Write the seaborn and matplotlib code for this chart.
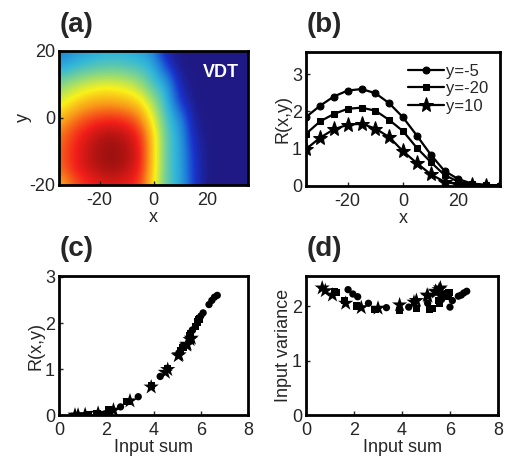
import numpy as np
import pandas as pd
import matplotlib
matplotlib.use("Agg")
import matplotlib.pyplot as plt
from matplotlib.colors import LinearSegmentedColormap
import seaborn as sns

# ---- data ----
# (a) VDT response map, normalised, rows y = 20 .. -20, cols x = -35 .. 35 (step 5)
map_x = [-35, -30, -25, -20, -15, -10, -5, 0, 5, 10, 15, 20, 25, 30, 35]
map_y = [20, 15, 10, 5, 0, -5, -10, -15, -20]
vdt_map = [
    [0.24, 0.28, 0.32, 0.34, 0.35, 0.34, 0.32, 0.26, 0.03, 0.00, 0.00, 0.00, 0.00, 0.00, 0.00],
    [0.33, 0.37, 0.40, 0.42, 0.43, 0.42, 0.40, 0.36, 0.15, 0.00, 0.00, 0.00, 0.00, 0.00, 0.00],
    [0.48, 0.53, 0.57, 0.60, 0.60, 0.58, 0.52, 0.40, 0.34, 0.05, 0.00, 0.00, 0.00, 0.00, 0.00],
    [0.58, 0.65, 0.70, 0.72, 0.72, 0.70, 0.66, 0.52, 0.37, 0.12, 0.00, 0.00, 0.00, 0.00, 0.00],
    [0.70, 0.77, 0.82, 0.85, 0.86, 0.84, 0.78, 0.60, 0.40, 0.28, 0.02, 0.00, 0.00, 0.00, 0.00],
    [0.78, 0.85, 0.90, 0.94, 0.95, 0.93, 0.87, 0.68, 0.42, 0.33, 0.06, 0.00, 0.00, 0.00, 0.00],
    [0.80, 0.87, 0.92, 0.96, 0.98, 0.95, 0.90, 0.68, 0.42, 0.34, 0.10, 0.00, 0.00, 0.00, 0.00],
    [0.80, 0.87, 0.92, 0.95, 0.97, 0.94, 0.89, 0.68, 0.42, 0.34, 0.12, 0.00, 0.00, 0.00, 0.00],
    [0.70, 0.80, 0.86, 0.88, 0.90, 0.88, 0.85, 0.65, 0.42, 0.35, 0.12, 0.00, 0.00, 0.00, 0.00],
]

# (b) R(x,y) along three horizontal cuts
cut_x = [-35, -30, -25, -20, -15, -10, -5, 0, 5, 10, 15, 20, 25, 30, 35]
r_ym5 = [1.85, 2.15, 2.40, 2.56, 2.60, 2.49, 2.22, 1.84, 1.35, 0.84, 0.40, 0.18, 0.06, 0.03, 0.00]
r_ym20 = [1.40, 1.73, 1.93, 2.07, 2.10, 2.02, 1.77, 1.47, 1.02, 0.64, 0.29, 0.11, 0.04, 0.01, 0.00]
r_y10 = [0.99, 1.29, 1.52, 1.64, 1.67, 1.54, 1.31, 0.93, 0.61, 0.31, 0.11, 0.04, 0.01, 0.00, 0.00]

# (c)/(d) input sum and input variance of the same points
sum_ym5 = [5.65, 6.00, 6.35, 6.58, 6.70, 6.47, 6.10, 5.64, 5.07, 4.28, 3.35, 2.60, 2.15, 1.95, 1.75]
sum_ym20 = [5.15, 5.53, 5.78, 5.92, 5.96, 5.87, 5.57, 5.25, 4.60, 3.90, 2.87, 2.10, 1.60, 1.25, 1.18]
sum_y10 = [4.60, 5.05, 5.40, 5.55, 5.60, 5.42, 5.08, 4.50, 3.90, 3.00, 2.30, 1.65, 1.10, 0.80, 0.67]
var_ym5 = [2.12, 1.98, 2.18, 2.24, 2.27, 2.20, 2.10, 2.20, 2.05, 1.98, 1.97, 2.05, 2.17, 2.22, 2.30]
var_ym20 = [1.93, 2.10, 2.20, 2.22, 2.25, 2.18, 2.05, 1.95, 1.95, 1.92, 1.93, 2.00, 2.10, 2.25, 2.27]
var_y10 = [2.10, 2.20, 2.27, 2.30, 2.33, 2.25, 2.18, 2.07, 2.02, 1.96, 1.97, 2.05, 2.20, 2.28, 2.33]

labels = ["y=-5", "y=-20", "y=10"]
markers = {"y=-5": "o", "y=-20": "s", "y=10": "*"}
sizes = {"y=-5": 5, "y=-20": 5, "y=10": 11}

# jet-like map with the muted tones of the printed figure
jet_like = LinearSegmentedColormap.from_list("jet_like", [
    (0.00, (0.12, 0.10, 0.52)),
    (0.12, (0.10, 0.20, 0.80)),
    (0.25, (0.12, 0.50, 0.85)),
    (0.37, (0.20, 0.72, 0.85)),
    (0.50, (0.55, 0.85, 0.50)),
    (0.63, (0.98, 0.95, 0.10)),
    (0.75, (0.98, 0.60, 0.10)),
    (0.88, (0.95, 0.12, 0.10)),
    (1.00, (0.50, 0.05, 0.05)),
])

sns.set_style("ticks")
plt.rcParams["font.family"] = ["Liberation Sans", "DejaVu Sans"]
plt.rcParams["font.size"] = 13
plt.rcParams["axes.unicode_minus"] = False

cuts = pd.DataFrame({
    "x": cut_x * 3,
    "R": r_ym5 + r_ym20 + r_y10,
    "sum": sum_ym5 + sum_ym20 + sum_y10,
    "var": var_ym5 + var_ym20 + var_y10,
    "cut": [l for l in labels for _ in cut_x],
})

fig = plt.figure(figsize=(5.06, 4.67), dpi=100)
ax_a = fig.add_axes([0.117, 0.604, 0.373, 0.287])
ax_b = fig.add_axes([0.605, 0.602, 0.383, 0.287])
ax_c = fig.add_axes([0.117, 0.111, 0.373, 0.298])
ax_d = fig.add_axes([0.605, 0.111, 0.379, 0.298])

# (a) heat map
ax_a.imshow(np.clip(np.array(vdt_map), 0, 1), cmap=jet_like, vmin=0, vmax=1,
            interpolation="bicubic", extent=[-37.5, 37.5, -22.5, 22.5], aspect="auto")
ax_a.set_xlim(-35, 35)
ax_a.set_ylim(-20, 20)
ax_a.set_xticks([-20, 0, 20])
ax_a.set_yticks([-20, 0, 20])
ax_a.set_xlabel("x", labelpad=0)
ax_a.set_ylabel("y", labelpad=-2)
ax_a.text(0.95, 0.9, "VDT", transform=ax_a.transAxes, color="white",
          fontweight="bold", fontsize=13, ha="right", va="top")

# (b) cuts
for lab in labels:
    sub = cuts[cuts["cut"] == lab]
    sns.lineplot(data=sub, x="x", y="R", ax=ax_b, color="black", lw=1.6,
                 marker=markers[lab], markersize=sizes[lab], mec="black",
                 label=lab)
ax_b.set_xlim(-35, 35)
ax_b.set_ylim(0, 3.6)
ax_b.set_xticks([-20, 0, 20])
ax_b.set_yticks([0, 1, 2, 3])
ax_b.set_xlabel("x", labelpad=0)
ax_b.set_ylabel("R(x,y)", labelpad=0)
ax_b.legend(loc="upper right", frameon=False, fontsize=12, handlelength=2.2,
            handletextpad=0.1, borderaxespad=0.3, labelspacing=0.15)

# (c) / (d) scatter
for ax, col in [(ax_c, "R"), (ax_d, "var")]:
    for lab in labels:
        sub = cuts[cuts["cut"] == lab]
        sns.scatterplot(data=sub, x="sum", y=col, ax=ax, color="black",
                        marker=markers[lab], s=sizes[lab] ** 2 * 1.1,
                        edgecolor="none", legend=False)
    ax.set_xlim(0, 8)
    ax.set_xticks([0, 2, 4, 6, 8])
    ax.set_xlabel("Input sum", labelpad=0)
ax_c.set_ylim(0, 3.02)
ax_c.set_yticks([0, 1, 2, 3])
ax_c.set_ylabel("R(x,y)", labelpad=0)
ax_d.set_ylim(0, 2.55)
ax_d.set_yticks([0, 1, 2])
ax_d.set_ylabel("Input variance", labelpad=0)

for ax in [ax_a, ax_b, ax_c, ax_d]:
    for sp in ax.spines.values():
        sp.set_linewidth(2)
        sp.set_color("black")
    ax.tick_params(direction="in", length=3, width=1, labelsize=13)
    ax.tick_params(axis="x", pad=5)
    ax.tick_params(axis="y", pad=3)

for ax, tag in [(ax_a, "(a)"), (ax_b, "(b)"), (ax_c, "(c)"), (ax_d, "(d)")]:
    ax.text(0.0, 1.1, tag, transform=ax.transAxes, fontsize=20,
            fontweight="bold", ha="left", va="bottom")

fig.savefig("out.png", dpi=100)
